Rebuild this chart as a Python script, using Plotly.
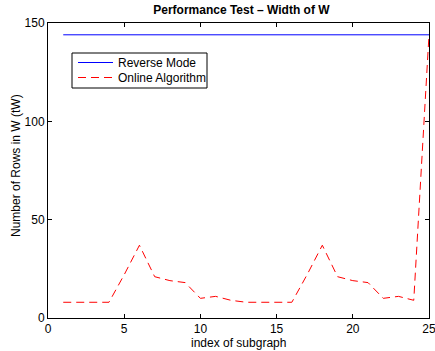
import plotly.graph_objects as go

x_index = list(range(1, 26))
reverse_mode = [144] * 25
online_algorithm = [8, 8, 8, 8, 22, 37, 21, 19, 18, 10, 11, 9, 8, 8, 8, 8,
                    22, 37, 21, 19, 18, 10, 11, 9, 144]
x_ticks = [0, 5, 10, 15, 20, 25]
y_ticks = [0, 50, 100, 150]
series_names = ["Reverse Mode", "Online Algorithm"]

FONT = "Liberation Sans, Arial, Helvetica, sans-serif"
W, H = 435, 351
L, R, T, B = 48, 6, 23, 33
pw, ph = W - L - R, H - T - B


def px(xp):
    return (xp - L) / pw


def py(yp):
    return (H - B - yp) / ph


fig = go.Figure()
fig.add_trace(go.Scatter(x=x_index, y=reverse_mode, mode="lines", name=series_names[0],
                         line=dict(color="#0000ff", width=1), showlegend=False))
fig.add_trace(go.Scatter(x=x_index, y=online_algorithm, mode="lines", name=series_names[1],
                         line=dict(color="#ff0000", width=1, dash="8px,5px"), showlegend=False))

axis_common = dict(showgrid=False, zeroline=False, showline=True, linecolor="black",
                   linewidth=1, mirror="ticks", ticks="inside", ticklen=4,
                   tickcolor="black", ticklabeloverflow="allow", automargin=False,
                   tickfont=dict(family=FONT, size=12, color="black"))

# custom legend box (matlab style)
shapes = [
    dict(type="rect", xref="paper", yref="paper", x0=px(72), x1=px(207), y0=py(88), y1=py(53),
         line=dict(color="black", width=1), fillcolor="white", layer="above"),
    dict(type="line", xref="paper", yref="paper", x0=px(78), x1=px(113), y0=py(62.5), y1=py(62.5),
         line=dict(color="#0000ff", width=1), layer="above"),
    dict(type="line", xref="paper", yref="paper", x0=px(78), x1=px(113), y0=py(77.5), y1=py(77.5),
         line=dict(color="#ff0000", width=1, dash="8px,5px"), layer="above"),
]
annotations = [
    dict(text=series_names[0], xref="paper", yref="paper", x=px(116), y=py(62.5),
         xanchor="left", yanchor="middle", showarrow=False,
         font=dict(family=FONT, size=12, color="black")),
    dict(text=series_names[1], xref="paper", yref="paper", x=px(116), y=py(77.5),
         xanchor="left", yanchor="middle", showarrow=False,
         font=dict(family=FONT, size=12, color="black")),
    dict(text="index of subgraph", xref="paper", yref="paper", x=px(238), y=py(343),
         xanchor="center", yanchor="middle", showarrow=False,
         font=dict(family=FONT, size=12, color="black")),
    dict(text="Number of Rows in W (tW)", xref="paper", yref="paper", x=px(16), y=py(166),
         xanchor="center", yanchor="middle", showarrow=False, textangle=-90,
         font=dict(family=FONT, size=12, color="black")),
]

fig.update_layout(
    template="none",
    width=W, height=H,
    margin=dict(l=L, r=R, t=T, b=B, autoexpand=False),
    paper_bgcolor="white", plot_bgcolor="white",
    font=dict(family=FONT, size=12, color="black"),
    title=dict(text="<b>Performance Test – Width of W</b>", x=0.555, xanchor="center",
               y=0.985, yanchor="top", font=dict(family=FONT, size=12, color="black")),
    xaxis=dict(range=[0, 25], tickvals=x_ticks, **axis_common),
    yaxis=dict(range=[0, 150], tickvals=y_ticks, **axis_common),
    shapes=shapes,
    annotations=annotations,
    showlegend=False,
)

fig.write_html("out.html", config={"displayModeBar": False},
               post_script="document.body.style.margin='0';document.body.style.padding='0';document.body.style.overflow='hidden';")
